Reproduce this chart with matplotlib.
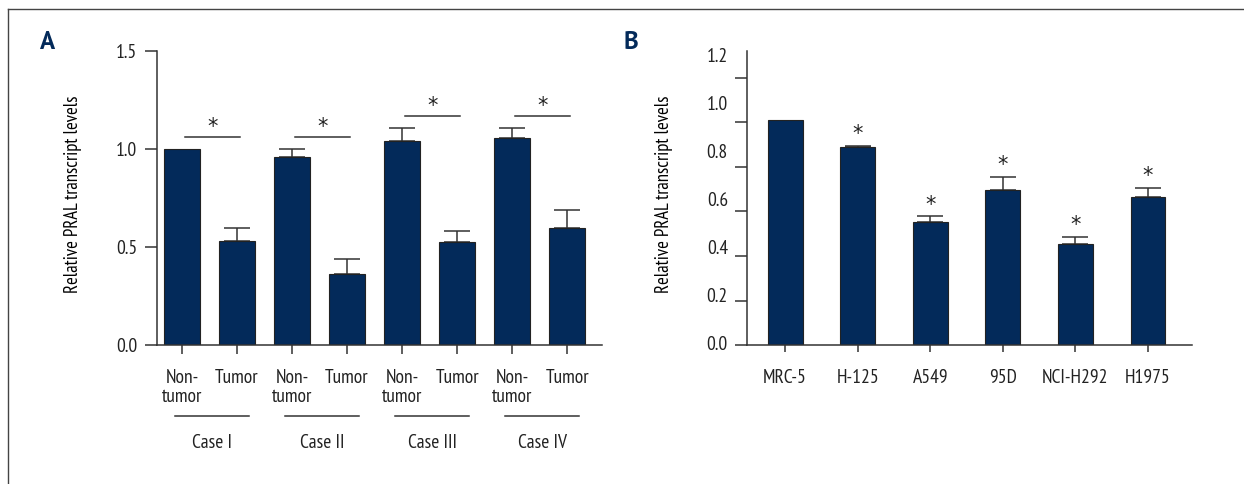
import numpy as np
import matplotlib.pyplot as plt
import matplotlib.transforms as mtransforms
from matplotlib.lines import Line2D
from matplotlib.ticker import FixedLocator, FixedFormatter, NullFormatter

plt.rcParams['font.family'] = ['PT Sans Narrow', 'Roboto Condensed', 'DejaVu Sans']

NAVY = '#032a5a'
INK = '#333333'
TXT = '#222222'

# panel A: paired tissue samples
cases = ['Case I', 'Case II', 'Case III', 'Case IV']
tissue_labels = ['Non-\ntumor', 'Tumor'] * 4
tissue_mean = [1.00, 0.53, 0.96, 0.36, 1.04, 0.525, 1.055, 0.595]
tissue_err = [0.0, 0.065, 0.04, 0.077, 0.066, 0.058, 0.054, 0.092]

# panel B: cell lines
cell_lines = ['MRC-5', 'H-125', 'A549', '95D', 'NCI-H292', 'H1975']
cell_mean = [1.01, 0.887, 0.551, 0.694, 0.454, 0.664]
cell_err = [0.0, 0.007, 0.028, 0.061, 0.033, 0.043]
cell_sig = [False, True, True, True, True, True]

yticks_a = [0.0, 0.5, 1.0, 1.5]
yticks_b = [0.0, 0.2, 0.4, 0.6, 0.8, 1.0, 1.2]
ylabels_b = ['0.0', '0.2', '0.4', '0.6', '0.8', '1.0', '1.2']

STAR_FONT = ['DejaVu Sans']


def style_axes(ax, xtick_len):
    for side in ('top', 'right'):
        ax.spines[side].set_visible(False)
    for side in ('left', 'bottom'):
        ax.spines[side].set_color(INK)
        ax.spines[side].set_linewidth(1.1)
    ax.tick_params(axis='y', length=9, width=1.1, color=INK, labelsize=14,
                   pad=5, labelcolor=TXT)
    ax.tick_params(axis='x', length=xtick_len, width=1.1, color=INK,
                   labelsize=14, labelcolor=TXT)


def bars_with_err(ax, mean, err, width):
    x = np.arange(len(mean))
    ax.bar(x, mean, width=width, color=NAVY, edgecolor=TXT,
           linewidth=0.8, zorder=2)
    mean = np.asarray(mean)
    err = np.asarray(err)
    has = err > 0
    ax.errorbar(x[has], mean[has], yerr=[np.zeros(has.sum()), err[has]],
                fmt='none', ecolor=INK, elinewidth=1.1, capsize=9.5,
                capthick=1.1, zorder=1)
    return x


fig = plt.figure(figsize=(12.44, 4.84), dpi=100)

# ---- panel A ----
ax_a = fig.add_axes([0.126, 0.2872, 0.3577, 0.6074])
xa = bars_with_err(ax_a, tissue_mean, tissue_err, 0.64)
ax_a.set_xlim(-0.46, 7.63)
ax_a.set_ylim(0, 1.5)
ax_a.set_yticks(yticks_a)
ax_a.set_yticklabels([f'{v:.1f}' for v in yticks_a])
ax_a.set_xticks(xa)
ax_a.set_xticklabels(tissue_labels, linespacing=1.12)
style_axes(ax_a, 6.5)
ax_a.tick_params(axis='x', pad=10.5)
ax_a.set_ylabel('Relative PRAL transcript levels', fontsize=13.4)
ax_a.yaxis.set_label_coords(-0.168, 0.514)

trans_a = mtransforms.blended_transform_factory(ax_a.transData, ax_a.transAxes)
for i, case in enumerate(cases):
    nt, tu = 2 * i, 2 * i + 1
    top = max(tissue_mean[nt] + tissue_err[nt], tissue_mean[tu] + tissue_err[tu])
    y = top + 0.06
    ax_a.plot([nt + 0.05, tu + 0.05], [y, y], color=INK, lw=1.1)
    ax_a.annotate('*', xy=((nt + tu) / 2 + 0.05, y), xytext=(0, 3),
                  textcoords='offset points', ha='center', va='baseline',
                  fontsize=15, color=TXT, family=STAR_FONT)
    ax_a.plot([nt - 0.13, tu + 0.22], [-0.24, -0.24], transform=trans_a,
              color=INK, lw=1.1, clip_on=False)
    ax_a.text((nt + tu) / 2 + 0.05, -0.333, case, transform=trans_a,
              ha='center', va='center', fontsize=14, color=TXT)

# ---- panel B ----
ax_b = fig.add_axes([0.6002, 0.2866, 0.3577, 0.6086])
xb = bars_with_err(ax_b, cell_mean, cell_err, 0.48)
ax_b.set_xlim(-0.53, 5.6)
ax_b.set_ylim(0, 1.32)
ax_b.set_xticks(xb)
ax_b.set_xticklabels(cell_lines)
ax_b.set_yticks(yticks_b)
ax_b.yaxis.set_major_formatter(NullFormatter())
# tick labels in the original sit on a slightly different grid than the ticks
ax_b.yaxis.set_minor_locator(FixedLocator(np.linspace(0.01, 1.30, 7)))
ax_b.yaxis.set_minor_formatter(FixedFormatter(ylabels_b))
style_axes(ax_b, 5)
ax_b.tick_params(axis='y', which='minor', length=0, pad=13.5, labelsize=14,
                 labelcolor=TXT)
ax_b.tick_params(axis='x', pad=12)
ax_b.set_ylabel('Relative PRAL transcript levels', fontsize=13.4)
ax_b.yaxis.set_label_coords(-0.166, 0.514)

for x, m, e, s in zip(xb, cell_mean, cell_err, cell_sig):
    if s:
        ax_b.annotate('*', xy=(x, m + e), xytext=(0, 4),
                      textcoords='offset points', ha='center', va='baseline',
                      fontsize=15, color=TXT, family=STAR_FONT)

# panel letters
fig.text(0.0325, 0.913, 'A', fontsize=18, fontweight='bold', color=NAVY,
         family=['PT Sans', 'DejaVu Sans'], va='center')
fig.text(0.5015, 0.913, 'B', fontsize=18, fontweight='bold', color=NAVY,
         family=['PT Sans', 'DejaVu Sans'], va='center')

# frame remnants (top and left edges)
fig.add_artist(Line2D([0.0067, 1.0], [0.981, 0.981], transform=fig.transFigure,
                      color='#444444', lw=1.0))
fig.add_artist(Line2D([0.0067, 0.0067], [0.0, 0.981], transform=fig.transFigure,
                      color='#444444', lw=1.0))

fig.savefig('out.png', dpi=100)
